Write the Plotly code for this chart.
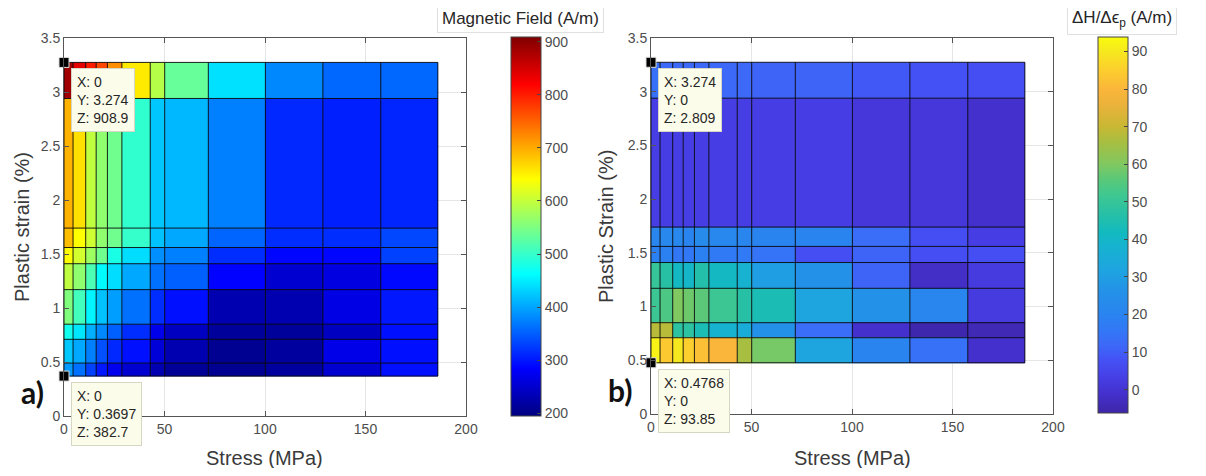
import plotly.graph_objects as go

# ---------------- data ----------------
stress_edges = [0, 4.5, 10.8, 16.0, 21.6, 28.8, 42.9, 50.1, 71.8, 100.2, 128.8, 157.6, 186.0]
strain_edges_a = [0.3697, 0.49, 0.71, 0.85, 1.17, 1.41, 1.56, 1.74, 2.94, 3.274]
strain_edges_b = [0.4768, 0.71, 0.85, 1.17, 1.41, 1.56, 1.74, 2.94, 3.274]

# Magnetic field (A/m), rows bottom->top, columns low->high stress
field_a = [
    [391, 363, 330, 300, 273, 252, 229, 211, 207, 217, 252, 295],
    [424, 402, 374, 340, 312, 295, 257, 229, 207, 217, 268, 295],
    [474, 445, 407, 380, 351, 316, 270, 240, 213, 213, 240, 295],
    [552, 509, 456, 420, 395, 363, 316, 295, 229, 229, 265, 300],
    [597, 563, 516, 460, 439, 402, 363, 351, 285, 252, 263, 290],
    [641, 610, 573, 541, 480, 439, 384, 374, 316, 288, 288, 330],
    [686, 641, 606, 563, 541, 500, 420, 402, 355, 316, 316, 334],
    [695, 663, 597, 563, 541, 496, 424, 413, 374, 312, 306, 310],
    [885, 838, 800, 770, 720, 655, 590, 534, 441, 380, 356, 356],
]

# dH/d(eps_p) (A/m)
dhde_b = [
    [92, 84, 90, 85, 82, 80, 66, 59, 32, 20, 14, -1],
    [68, 68, 48, 48, 44, 38, 35, 26, 13, -1, -5.5, -4.5],
    [51, 54, 60, 58, 56, 51, 47, 44, 32, 26, 21, 2],
    [50, 47, 41, 40, 46, 41, 38, 30, 26, 11, -2, 2],
    [19, 19, 16, 16, 19, 17, 17, 15, 7, 11, 7, 7],
    [21, 22, 22, 20, 23, 22, 21, 20, 20, 13, 7, 3],
    [3, 3, 3, 3, 3, 3, 3, 3, 3, 1, 1, -1],
    [14, 12, 12, 12, 12, 12, 12, 11, 11, 9, 8, 7],
]

range_a = [195, 908.9]
range_b = [-6.2, 93.85]

x_ticks = [0, 50, 100, 150, 200]
y_ticks = [0, 0.5, 1, 1.5, 2, 2.5, 3, 3.5]
cb_ticks_a = [200, 300, 400, 500, 600, 700, 800, 900]
cb_ticks_b = [0, 10, 20, 30, 40, 50, 60, 70, 80, 90]

# data tips: (plot x, plot y, label X, label Y, label Z)
tips_a = [(0, 3.274, "0", "3.274", "908.9"), (0, 0.3697, "0", "0.3697", "382.7")]
tips_b = [(0, 3.274, "3.274", "0", "2.809"), (0, 0.4768, "0.4768", "0", "93.85")]

# ---------------- colour maps ----------------
jet = [[0, "rgb(0,0,128)"], [0.125, "rgb(0,0,255)"], [0.375, "rgb(0,255,255)"],
       [0.625, "rgb(255,255,0)"], [0.875, "rgb(255,0,0)"], [1, "rgb(128,0,0)"]]

par_vals = [-6.2, -1, 3, 8, 12, 16, 20, 26, 32, 38, 42, 47, 52, 56, 60, 66, 70, 76, 80, 85, 90, 93.85]
par_cols = [(62, 38, 168), (68, 48, 205), (70, 62, 228), (68, 82, 245), (60, 105, 248),
            (50, 120, 246), (42, 132, 240), (36, 145, 232), (30, 165, 224), (22, 178, 208),
            (18, 186, 190), (40, 192, 165), (64, 200, 144), (90, 200, 120), (128, 200, 96),
            (168, 190, 64), (200, 184, 52), (236, 178, 58), (250, 182, 58), (252, 206, 46),
            (246, 232, 30), (249, 251, 14)]
span = range_b[1] - range_b[0]
parula = [[(v - range_b[0]) / span, "rgb(%d,%d,%d)" % c] for v, c in zip(par_vals, par_cols)]

# page body has an 8px margin: figure is shrunk and all placements shifted by it
OFF = 8
W, H = 1206 - 2 * OFF, 476 - 2 * OFF
FONT = "Liberation Sans, Arial, sans-serif"
TXT = "#3a3a3a"
TICK = "#4d4d4d"


def px(x):
    return (x - OFF) / W


def py(y):
    return 1 - (y - OFF) / H


def edge_lines(xe, ye):
    xs, ys = [], []
    for x in xe:
        xs += [x, x, None]
        ys += [ye[0], ye[-1], None]
    for y in ye:
        xs += [xe[0], xe[-1], None]
        ys += [y, y, None]
    return xs, ys


fig = go.Figure()

panels = [
    dict(z=field_a, ye=strain_edges_a, cs=jet, rng=range_a, cbx=511, cby=(37, 416),
         cbt=cb_ticks_a, xa="x", ya="y", tips=tips_a),
    dict(z=dhde_b, ye=strain_edges_b, cs=parula, rng=range_b, cbx=1098, cby=(37, 413),
         cbt=cb_ticks_b, xa="x2", ya="y2", tips=tips_b),
]

for p in panels:
    y0, y1 = p["cby"]
    fig.add_trace(go.Heatmap(
        x=stress_edges, y=p["ye"], z=p["z"], colorscale=p["cs"],
        zmin=p["rng"][0], zmax=p["rng"][1], xaxis=p["xa"], yaxis=p["ya"],
        hoverinfo="skip",
        colorbar=dict(x=px(p["cbx"]), xanchor="left", y=py((y0 + y1) / 2), yanchor="middle",
                      len=(y1 - y0) / H, lenmode="fraction", thickness=30, thicknessmode="pixels",
                      xpad=0, ypad=0, outlinewidth=1, outlinecolor="#444",
                      tickvals=p["cbt"], ticks="inside", ticklen=4, tickcolor="#444",
                      tickfont=dict(family=FONT, size=14, color=TICK)),
    ))
    lx, ly = edge_lines(stress_edges, p["ye"])
    fig.add_trace(go.Scatter(x=lx, y=ly, mode="lines", xaxis=p["xa"], yaxis=p["ya"],
                             line=dict(color="rgba(10,10,10,0.9)", width=1),
                             hoverinfo="skip", showlegend=False))
    fig.add_trace(go.Scatter(x=[t[0] for t in p["tips"]], y=[t[1] for t in p["tips"]],
                             mode="markers", xaxis=p["xa"], yaxis=p["ya"], cliponaxis=False,
                             marker=dict(symbol="square", size=10, color="black",
                                         line=dict(color="#ddd", width=1)),
                             hoverinfo="skip", showlegend=False))
    for t in p["tips"]:
        fig.add_annotation(x=t[0], y=t[1], xref=p["xa"], yref=p["ya"],
                           text="X: %s<br>Y: %s<br>Z: %s" % (t[2], t[3], t[4]),
                           showarrow=False, xanchor="left", yanchor="top", align="left",
                           xshift=7, yshift=-6, bgcolor="#fcfcea", bordercolor="#d6d6c4",
                           borderwidth=1, borderpad=5,
                           font=dict(family=FONT, size=14, color="#262626"))

axis_common = dict(showline=True, linecolor="#555", linewidth=1, mirror="ticks",
                   ticks="inside", ticklen=5, tickcolor="#555", showgrid=True,
                   gridcolor="#e6e6e6", zeroline=False, automargin=False,
                   tickfont=dict(family=FONT, size=14, color=TICK))

fig.update_layout(
    width=W, height=H, margin=dict(l=0, r=0, t=0, b=0, pad=0, autoexpand=False),
    paper_bgcolor="white", plot_bgcolor="white", showlegend=False,
    xaxis=dict(domain=[px(64), px(466)], range=[0, 200], tickvals=x_ticks, anchor="y", **axis_common),
    yaxis=dict(domain=[py(416), py(38)], range=[0, 3.5], tickvals=y_ticks, anchor="x", **axis_common),
    xaxis2=dict(domain=[px(651), px(1053)], range=[0, 200], tickvals=x_ticks, anchor="y2", **axis_common),
    yaxis2=dict(domain=[py(414), py(38)], range=[0, 3.5], tickvals=y_ticks, anchor="x2", **axis_common),
)

texts = [
    ("Plastic strain (%)", 22, 227, 20, -90, False),
    ("Stress (MPa)", 264, 458, 20, 0, False),
    ("Plastic Strain (%)", 606, 227, 20, -90, False),
    ("Stress (MPa)", 852, 458, 20, 0, False),
    ("a)", 32, 392, 30, 0, True),
    ("b)", 620, 390, 30, 0, True),
]
for s, x, y, size, ang, bold in texts:
    fig.add_annotation(x=px(x), y=py(y), xref="paper", yref="paper", text=("<b>%s</b>" % s) if bold else s,
                       showarrow=False, xanchor="center", yanchor="middle", textangle=ang,
                       font=dict(family="Lato, sans-serif" if bold else FONT, size=size,
                                 color="#111" if bold else TXT))

for s, x in [("Magnetic Field (A/m)", 520), ("ΔH/Δϵ<sub>p</sub> (A/m)", 1122)]:
    fig.add_annotation(x=px(x), y=py(19), xref="paper", yref="paper", text=s, showarrow=False,
                       xanchor="center", yanchor="middle", bgcolor="white", bordercolor="#e0e0e0",
                       borderwidth=1, borderpad=4, font=dict(family=FONT, size=17, color="#262626"))

fig.write_html("out.html")
